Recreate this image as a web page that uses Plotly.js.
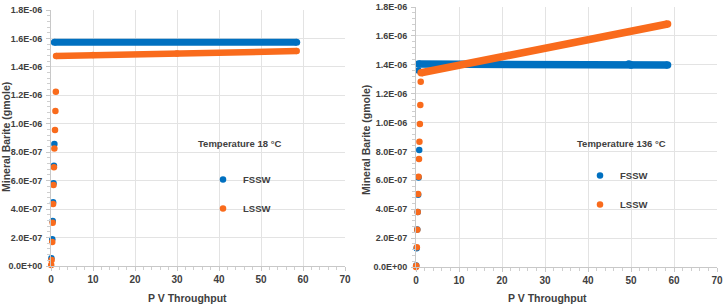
<!DOCTYPE html>
<html><head><meta charset="utf-8">
<script src="https://cdn.plot.ly/plotly-3.0.1.min.js"></script>
<style>html,body{margin:0;padding:0;background:#fff}#chart{width:726px;height:308px}</style>
</head><body><div id="chart"></div>
<script>
// ---- Data ----
const xTickVals = [0, 10, 20, 30, 40, 50, 60, 70];
const yTickVals = [0, 2e-7, 4e-7, 6e-7, 8e-7, 1e-6, 1.2e-6, 1.4e-6, 1.6e-6, 1.8e-6];
const yTickText = ['0.0E+00','2.0E-07','4.0E-07','6.0E-07','8.0E-07','1.0E-06','1.2E-06','1.4E-06','1.6E-06','1.8E-06'];

// Temperature 18 °C
const fssw18RampX = [0.1, 0.3, 0.4, 0.5, 0.6, 0.7, 0.8];
const fssw18RampY = [0.054e-6, 0.188e-6, 0.316e-6, 0.448e-6, 0.581e-6, 0.705e-6, 0.858e-6];
const fssw18PlatX = [0.8, 58.5];
const fssw18PlatY = [1.573e-6, 1.573e-6];
const lssw18RampX = [0.05, 0.15, 0.3, 0.4, 0.5, 0.6, 0.7, 0.8, 0.95, 1.05, 1.15];
const lssw18RampY = [0.007e-6, 0.042e-6, 0.169e-6, 0.304e-6, 0.436e-6, 0.569e-6, 0.694e-6, 0.827e-6, 0.956e-6, 1.09e-6, 1.225e-6];
const lssw18PlatX = [1.2, 10, 30, 58.5];
const lssw18PlatY = [1.476e-6, 1.483e-6, 1.494e-6, 1.511e-6];

// Temperature 136 °C
const fssw136RampX = [0.05, 0.15, 0.3, 0.4, 0.5, 0.6, 0.75, 0.55];
const fssw136RampY = [0.01e-6, 0.13e-6, 0.26e-6, 0.38e-6, 0.5e-6, 0.62e-6, 0.81e-6, 1.36e-6];
const fssw136PlatX = [0.6, 49.5, 50, 58.5];
const fssw136PlatY = [1.405e-6, 1.405e-6, 1.398e-6, 1.398e-6];
const lssw136RampX = [0.0, 0.05, 0.2, 0.3, 0.4, 0.5, 0.6, 0.7, 0.8, 0.9, 1.0, 1.1];
const lssw136RampY = [0.0, 0.009e-6, 0.136e-6, 0.258e-6, 0.381e-6, 0.505e-6, 0.625e-6, 0.748e-6, 0.867e-6, 0.99e-6, 1.122e-6, 1.283e-6];
const lssw136PlatX = [1.2, 58.5];
const lssw136PlatY = [1.345e-6, 1.682e-6];

const seriesNames = ['FSSW', 'LSSW'];
const tempLabels = ['Temperature 18 °C', 'Temperature 136 °C'];
const xTitle = 'P V Throughput';
const yTitle = 'Mineral Barite (gmole)';

// ---- Styling ----
const BLUE = '#0070c0', ORANGE = '#f96b1c';
const FONT = '"Liberation Sans", Arial, sans-serif';
const TXT = '#404040';

function ramp(x, y, color, name, xa, ya, legend, group) {
  return {x, y, xaxis: xa, yaxis: ya, type: 'scatter', mode: 'markers', name,
    legend, legendgroup: group, showlegend: true, cliponaxis: false,
    marker: {color, size: 6.5}};
}
function plat(x, y, color, w, xa, ya, legend, group) {
  return {x, y, xaxis: xa, yaxis: ya, type: 'scatter', mode: 'lines+markers',
    legend, legendgroup: group, showlegend: false, cliponaxis: false,
    line: {color, width: w}, marker: {color, size: w}};
}

const traces = [
  ramp(fssw18RampX, fssw18RampY, BLUE, seriesNames[0], 'x', 'y', 'legend', 'a1'),
  plat(fssw18PlatX, fssw18PlatY, BLUE, 7, 'x', 'y', 'legend', 'a1'),
  ramp(lssw18RampX, lssw18RampY, ORANGE, seriesNames[1], 'x', 'y', 'legend', 'a2'),
  plat(lssw18PlatX, lssw18PlatY, ORANGE, 6.5, 'x', 'y', 'legend', 'a2'),
  ramp(fssw136RampX, fssw136RampY, BLUE, seriesNames[0], 'x2', 'y2', 'legend2', 'b1'),
  plat(fssw136PlatX, fssw136PlatY, BLUE, 7.5, 'x2', 'y2', 'legend2', 'b1'),
  ramp(lssw136RampX, lssw136RampY, ORANGE, seriesNames[1], 'x2', 'y2', 'legend2', 'b2'),
  plat(lssw136PlatX, lssw136PlatY, ORANGE, 7.5, 'x2', 'y2', 'legend2', 'b2')
];

const tickFont = {family: FONT, size: 9, color: TXT, weight: 'bold'};
function xax(domain, anchor) {
  return {domain, anchor, range: [0, 70], tickvals: xTickVals, ticktext: xTickVals.map(String),
    showgrid: true, gridcolor: '#e3e3e3', gridwidth: 1, zeroline: false,
    showline: true, linecolor: '#c8c8c8', linewidth: 1,
    ticks: 'outside', ticklen: 4, tickcolor: '#c8c8c8', ticklabelstandoff: 0,
    minor: {dtick: 2, ticks: 'outside', ticklen: 3, tickcolor: '#cfcfcf', showgrid: false},
    tickfont: {family: FONT, size: 10, color: TXT, weight: 'bold'}, fixedrange: true};
}
function yax(domain, anchor) {
  return {domain, anchor, range: [0, 1.8e-6], tickvals: yTickVals, ticktext: yTickText,
    showgrid: true, gridcolor: '#e3e3e3', gridwidth: 1, zeroline: false,
    showline: true, linecolor: '#c8c8c8', linewidth: 1,
    ticks: 'outside', ticklen: 4, tickcolor: '#c8c8c8', ticklabelstandoff: 2,
    minor: {dtick: 4e-8, ticks: 'outside', ticklen: 3, tickcolor: '#cfcfcf', showgrid: false},
    tickfont: tickFont, fixedrange: true};
}

const W = 726, H = 308;
const px = v => v / W, py = v => 1 - v / H;
const titleFont = {family: FONT, size: 10.5, color: TXT, weight: 'bold'};
const legFont = {family: FONT, size: 9.5, color: TXT, weight: 'bold'};

const layout = {
  width: W, height: H, margin: {l: 0, r: 0, t: 0, b: 0},
  paper_bgcolor: '#fff', plot_bgcolor: '#fff',
  xaxis: xax([px(51), px(345)], 'y'),
  yaxis: yax([py(266), py(10)], 'x'),
  xaxis2: xax([px(416), px(717)], 'y2'),
  yaxis2: yax([py(267), py(7)], 'x2'),
  legend: {x: px(203), y: py(165), xanchor: 'left', yanchor: 'top', bgcolor: 'rgba(0,0,0,0)',
    font: legFont, traceorder: 'grouped', tracegroupgap: 10, itemwidth: 30},
  legend2: {x: px(580), y: py(161), xanchor: 'left', yanchor: 'top', bgcolor: 'rgba(0,0,0,0)',
    font: legFont, traceorder: 'grouped', tracegroupgap: 10, itemwidth: 30},
  annotations: [
    {text: tempLabels[0], xref: 'paper', yref: 'paper', x: px(196), y: py(143), xanchor: 'left', yanchor: 'middle', showarrow: false, font: legFont},
    {text: tempLabels[1], xref: 'paper', yref: 'paper', x: px(575), y: py(143), xanchor: 'left', yanchor: 'middle', showarrow: false, font: legFont},
    {text: xTitle, xref: 'paper', yref: 'paper', x: px(187), y: py(298), xanchor: 'center', yanchor: 'middle', showarrow: false, font: titleFont},
    {text: xTitle, xref: 'paper', yref: 'paper', x: px(547), y: py(298), xanchor: 'center', yanchor: 'middle', showarrow: false, font: titleFont},
    {text: yTitle, xref: 'paper', yref: 'paper', x: px(6), y: py(137), xanchor: 'center', yanchor: 'middle', textangle: -90, showarrow: false, font: titleFont},
    {text: yTitle, xref: 'paper', yref: 'paper', x: px(366), y: py(140), xanchor: 'center', yanchor: 'middle', textangle: -90, showarrow: false, font: titleFont}
  ]
};

Plotly.newPlot('chart', traces, layout, {displayModeBar: false, staticPlot: true});
</script></body></html>
